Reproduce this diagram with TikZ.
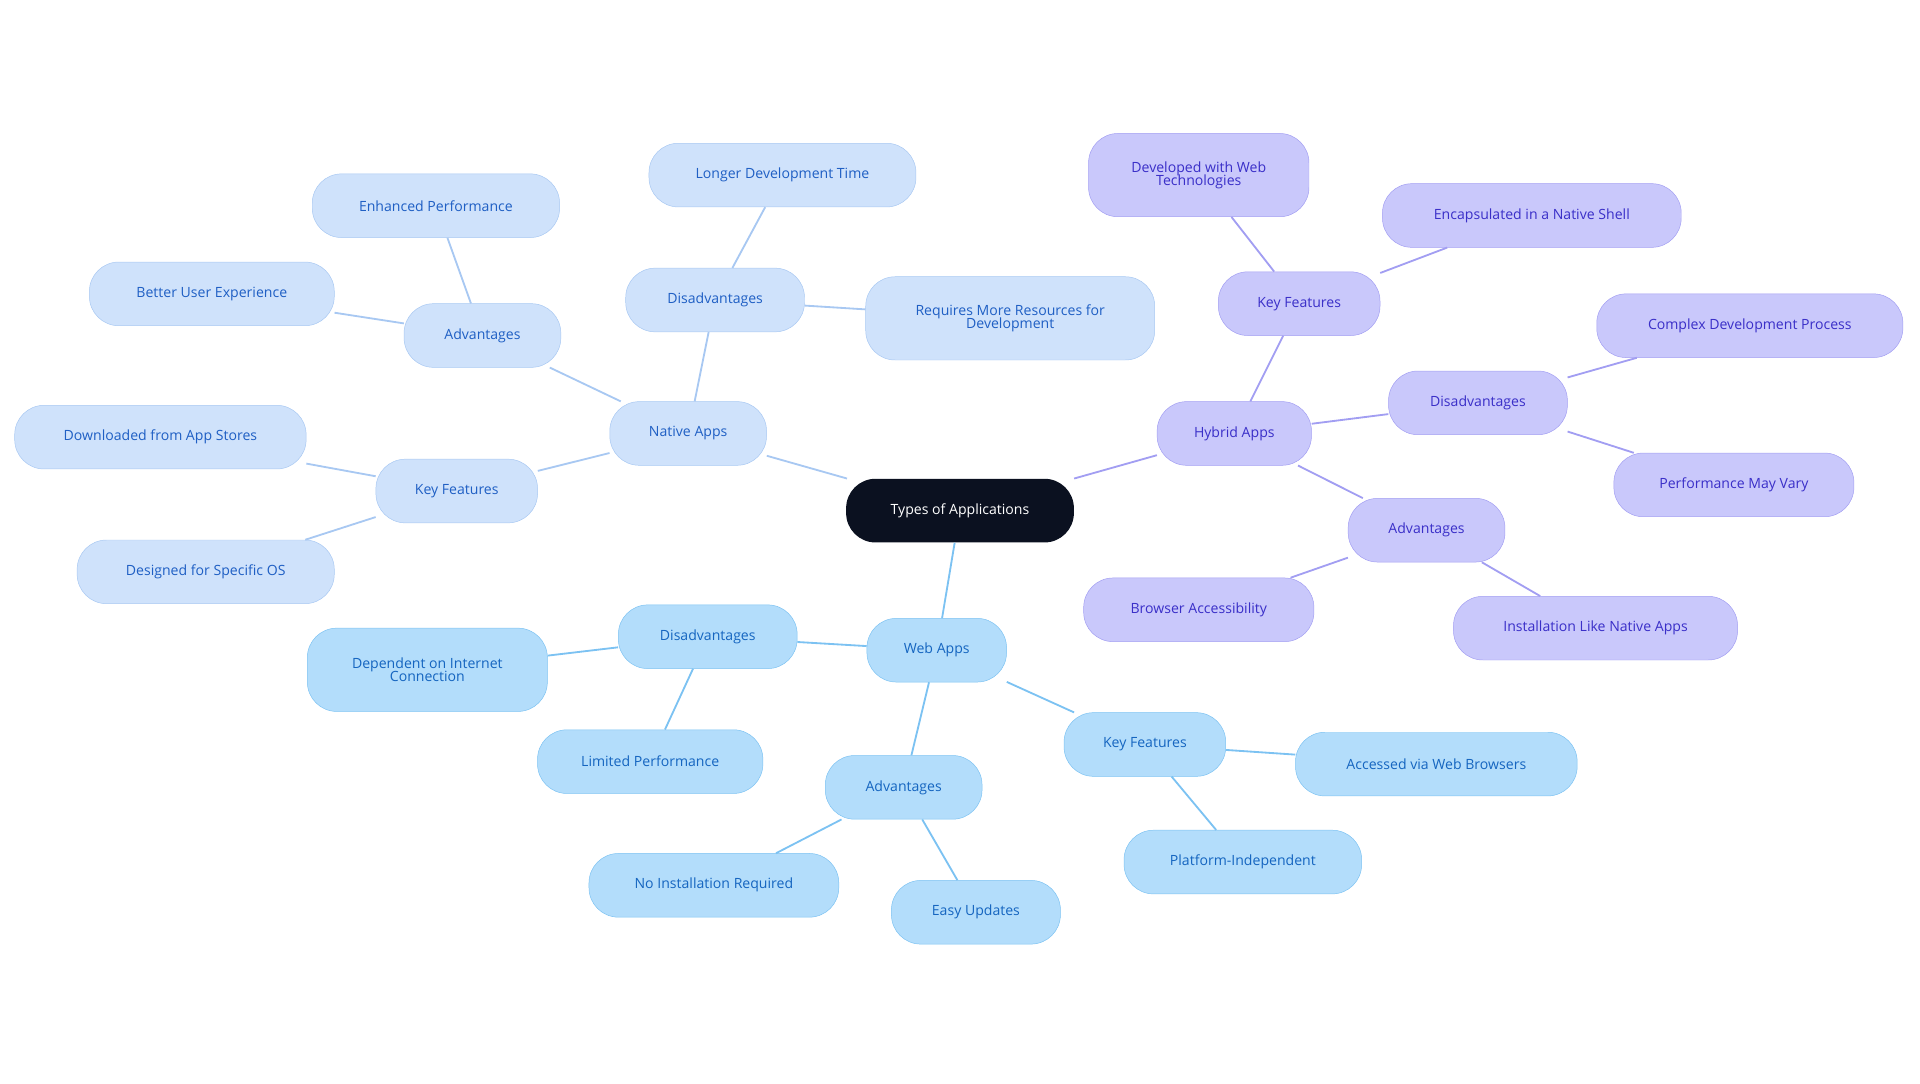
\documentclass[tikz,border=0pt]{standalone}
\usepackage{fontspec}
\setmainfont{Open Sans}
\definecolor{nf}{HTML}{CFE2FB}\definecolor{nt}{HTML}{1F5FC4}\definecolor{nd}{HTML}{A8C8F2}
\definecolor{wf}{HTML}{B3DDFB}\definecolor{wt}{HTML}{1565C0}\definecolor{wd}{HTML}{7CC2F2}
\definecolor{hf}{HTML}{C9C8FB}\definecolor{ht}{HTML}{3A2FC8}\definecolor{hd}{HTML}{A29EF2}
\definecolor{cf}{HTML}{0B1120}
\tikzset{
 base/.style={rounded corners=24pt,minimum height=52pt,align=center,font=\fontsize{11.5}{12}\selectfont,inner sep=2pt},
 nat/.style={base,fill=nf,draw=nd,text=nt},
 web/.style={base,fill=wf,draw=wd,text=wt},
 hyb/.style={base,fill=hf,draw=hd,text=ht},
 ne/.style={draw=nd,line width=1.5pt},
 we/.style={draw=wd,line width=1.5pt},
 he/.style={draw=hd,line width=1.5pt}}
\newcommand{\nd}[5]{\node[#1,minimum width=#4pt] (#2) at (#3) {#5};}
\begin{document}
\begin{tikzpicture}[x=1pt,y=-1pt]
\useasboundingbox (0,0) rectangle (1568,885);
\node[base,fill=cf,text=white,minimum width=186pt] (c) at (784,417) {Types of Applications};
\nd{nat}{na}{562,354}{128}{Native Apps}
\nd{nat}{nad}{394,274}{128}{Advantages}
\nd{nat}{nep}{356,168}{202}{Enhanced Performance}
\nd{nat}{nbu}{173,240}{200}{Better User Experience}
\nd{nat}{nkf}{373,401}{132}{Key Features}
\nd{nat}{ndl}{131,357}{238}{Downloaded from App Stores}
\nd{nat}{nds}{168,467}{210}{Designed for Specific OS}
\nd{nat}{ndi}{584,245}{146}{Disadvantages}
\nd{nat}{nld}{639,143}{218}{Longer Development Time}
\node[nat,minimum width=236pt,minimum height=68pt] (nrm) at (825,260) {Requires More Resources for\\[-1pt]Development};
\nd{hyb}{ha}{1008,354}{126}{Hybrid Apps}
\nd{hyb}{hkf}{1061,248}{132}{Key Features}
\node[hyb,minimum width=180pt,minimum height=68pt] (hdw) at (979,143) {Developed with Web\\[-1pt]Technologies};
\nd{hyb}{hen}{1251,176}{244}{Encapsulated in a Native Shell}
\nd{hyb}{hdi}{1207,329}{146}{Disadvantages}
\nd{hyb}{hcd}{1429,266}{250}{Complex Development Process}
\nd{hyb}{hpm}{1416,396}{196}{Performance May Vary}
\nd{hyb}{had}{1165,433}{128}{Advantages}
\nd{hyb}{hba}{979,498}{188}{Browser Accessibility}
\nd{hyb}{hin}{1303,513}{232}{Installation Like Native Apps}
\nd{web}{wa}{765,531}{114}{Web Apps}
\nd{web}{wdi}{578,520}{146}{Disadvantages}
\node[web,minimum width=196pt,minimum height=68pt] (wdo) at (349,547) {Dependent on Internet\\[-1pt]Connection};
\nd{web}{wlp}{531,622}{184}{Limited Performance}
\nd{web}{wad}{738,643}{128}{Advantages}
\nd{web}{wni}{583,723}{204}{No Installation Required}
\nd{web}{weu}{797,745}{138}{Easy Updates}
\nd{web}{wkf}{935,608}{132}{Key Features}
\nd{web}{wav}{1173,624}{230}{Accessed via Web Browsers}
\nd{web}{wpi}{1015,704}{194}{Platform-Independent}
\draw[ne] (c)--(na) (na)--(nad) (nad)--(nep) (nad)--(nbu) (na)--(nkf) (nkf)--(ndl) (nkf)--(nds) (na)--(ndi) (ndi)--(nld) (ndi)--(nrm);
\draw[he] (c)--(ha) (ha)--(hkf) (hkf)--(hdw) (hkf)--(hen) (ha)--(hdi) (hdi)--(hcd) (hdi)--(hpm) (ha)--(had) (had)--(hba) (had)--(hin);
\draw[we] (c)--(wa) (wa)--(wdi) (wdi)--(wdo) (wdi)--(wlp) (wa)--(wad) (wad)--(wni) (wad)--(weu) (wa)--(wkf) (wkf)--(wav) (wkf)--(wpi);
\end{tikzpicture}
\end{document}
